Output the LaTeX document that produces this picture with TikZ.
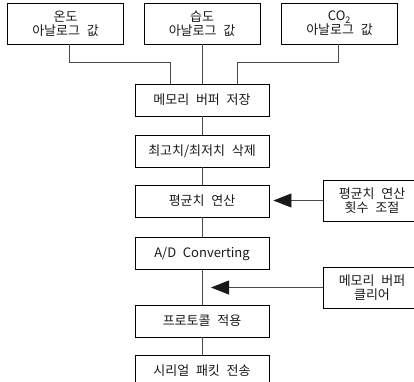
\documentclass[tikz,border=0pt]{standalone}
\usepackage{fontspec}
\setmainfont{Noto Sans CJK KR}[WordSpace=2.3]
\usetikzlibrary{arrows.meta}

\begin{document}
\begin{tikzpicture}[x=1pt,y=-1pt,
    box/.style={draw,line width=0.9pt,minimum width=134pt,minimum height=32pt,
        inner sep=0pt,font=\fontsize{13}{14}\selectfont,text=black!90},
    inbox/.style={box,minimum width=116pt,minimum height=41pt,align=center},
    sidebox/.style={box,minimum width=98pt,minimum height=41pt,align=center},
    wire/.style={line width=0.8pt,draw=black!70},
    feed/.style={wire,-{Triangle[length=18pt,width=14pt,fill=black!90,color=black!90]}}]
    \clip (0,0) rectangle (414,381);

    % inputs
    \node[inbox] (temp) at (65.5,23.5) {온도\\아날로그 값};
    \node[inbox] (humid) at (202,23.5) {습도\\아날로그 값};
    \node[inbox] (co2) at (339.5,23.5) {CO\textsubscript{2}\\아날로그 값};

    % main column
    \node[box] (store) at (202,100) {메모리 버퍼 저장};
    \node[box] (trim) at (202,151) {최고치/최저치 삭제};
    \node[box] (avg) at (202,201) {평균치 연산};
    \node[box] (adc) at (202,253.5) {A/D Converting};
    \node[box] (proto) at (202,321) {프로토콜 적용};
    \node[box] (serial) at (202,371) {시리얼 패킷 전송};

    % side inputs
    \node[sidebox] (avgset) at (372,200.5) {평균치 연산\\횟수 조절};
    \node[sidebox] (clear) at (372,287.5) {메모리 버퍼\\클리어};
    \coordinate (clrend) at (211,287.5);

    \draw[wire] ([xshift=3.5pt]temp.south) -- ++(0,18) -| ([xshift=-32pt]store.north);
    \draw[wire] (humid.south) -- (store.north);
    \draw[wire] ([xshift=-1.5pt]co2.south) -- ++(0,18) -| ([xshift=35pt]store.north);

    \draw[wire] (store) -- (trim)
                (trim) -- (avg)
                (avg) -- (adc)
                (adc) -- (proto)
                (proto) -- (serial);

    \draw[feed,shorten >=4pt] (avgset.west) -- (avgset.west -| avg.east);
    \draw[feed] (clear.west) -- (clrend);
\end{tikzpicture}
\end{document}
